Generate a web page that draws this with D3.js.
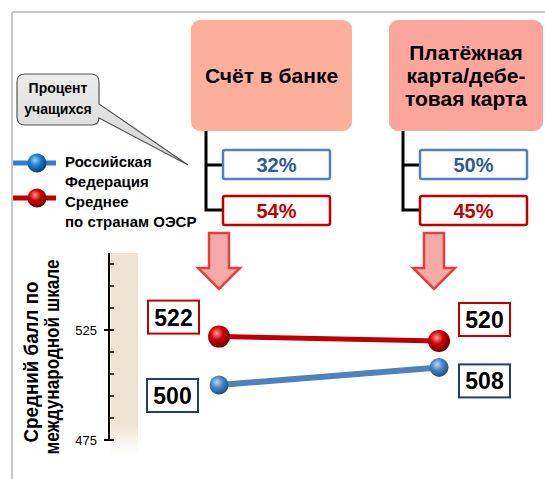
<!DOCTYPE html>
<html>
<head>
<meta charset="utf-8">
<script src="https://cdn.jsdelivr.net/npm/d3@7"></script>
<style>
  body { margin: 0; background: #fff; }
  text { font-family: "Liberation Sans", Arial, sans-serif; font-weight: bold; }
</style>
</head>
<body>
<script>
// categories and values
var categories = ["Счёт в банке", "Платёжная карта/дебетовая карта"];
var categoryLines = [["Счёт в банке"], ["Платёжная", "карта/дебе-", "товая карта"]];
var russiaScores = [500, 508];
var oecdScores = [522, 520];
var russiaPct = [32, 50];
var oecdPct = [54, 45];
var seriesNames = [["Российская", "Федерация"], ["Среднее", "по странам ОЭСР"]];
var axisTitle = ["Средний балл по", "международной шкале"];
var calloutText = ["Процент", "учащихся"];
var tickLabels = [475, 525];

var w = 545, h = 479;

var svg = d3.select("body").append("svg")
    .attr("width", w)
    .attr("height", h);

var defs = svg.append("defs");

// sphere gradients
function sphere(id, light, mid, dark) {
    var g = defs.append("radialGradient").attr("id", id)
        .attr("cx", "40%").attr("cy", "35%").attr("r", "65%");
    g.append("stop").attr("offset", "0%").attr("stop-color", light);
    g.append("stop").attr("offset", "45%").attr("stop-color", mid);
    g.append("stop").attr("offset", "100%").attr("stop-color", dark);
}
sphere("blueBall", "#bcd8f5", "#4f86c6", "#1f4f86");
sphere("blueBall2", "#9fd0ff", "#1f7fd0", "#0a3f78");
sphere("redBall", "#ff9a9a", "#d00000", "#6e0000");

var band = defs.append("linearGradient").attr("id", "band")
    .attr("x1", 0).attr("y1", 0).attr("x2", 0).attr("y2", 1);
band.append("stop").attr("offset", "0%").attr("stop-color", "#eee3d0");
band.append("stop").attr("offset", "85%").attr("stop-color", "#eee3d0");
band.append("stop").attr("offset", "100%").attr("stop-color", "#ffffff");

var callGrad = defs.append("linearGradient").attr("id", "callGrad")
    .attr("x1", 0).attr("y1", 0).attr("x2", 0).attr("y2", 1);
callGrad.append("stop").attr("offset", "0%").attr("stop-color", "#ececec");
callGrad.append("stop").attr("offset", "100%").attr("stop-color", "#d4d4d4");

//frame
svg.append("line").attr("x1", 12).attr("y1", 12).attr("x2", w).attr("y2", 12)
    .style("stroke", "#c8c8c8").style("stroke-width", 2);
svg.append("line").attr("x1", 12).attr("y1", 12).attr("x2", 12).attr("y2", h)
    .style("stroke", "#c8c8c8").style("stroke-width", 2);

//scales
var x = d3.scalePoint()
    .domain(categories)
    .range([219, 439]);

var y = d3.scaleLinear()
    .domain([475, 560])
    .range([440, 253]);

var topBox = d3.scaleOrdinal()
    .domain(categories)
    .range([[191, 161], [389, 154]]);

var branchX = d3.scaleOrdinal()
    .domain(categories)
    .range([206, 403]);

//y axis band and axis
svg.append("rect")
    .attr("x", 111).attr("y", y(560))
    .attr("width", 27).attr("height", y(475) - y(560) + 14)
    .style("fill", "url(#band)");

var axisG = svg.append("g").attr("transform", "translate(109,0)");
axisG.append("line").attr("x1", 0).attr("x2", 0)
    .attr("y1", y(560)).attr("y2", y(475))
    .style("stroke", "#000").style("stroke-width", 2);

var minor = d3.range(475, 561, 10);
axisG.selectAll(".minor")
    .data(minor)
    .enter().append("line")
    .attr("x1", 0).attr("x2", 5)
    .attr("y1", function (d) { return y(d); })
    .attr("y2", function (d) { return y(d); })
    .style("stroke", "#000").style("stroke-width", 1.5);

axisG.selectAll(".major")
    .data(tickLabels)
    .enter().append("line")
    .attr("x1", -5).attr("x2", 5)
    .attr("y1", function (d) { return y(d); })
    .attr("y2", function (d) { return y(d); })
    .style("stroke", "#000").style("stroke-width", 2);

axisG.selectAll(".lbl")
    .data(tickLabels)
    .enter().append("text")
    .attr("x", -12)
    .attr("y", function (d) { return y(d) + 5; })
    .attr("text-anchor", "end")
    .style("font-size", "13px")
    .style("font-weight", "normal")
    .text(function (d) { return d; });

//axis title
var titlePos = [{ x: 38, c: 362, len: 161 }, { x: 59, c: 357, len: 195 }];
axisTitle.forEach(function (t, i) {
    var p = titlePos[i];
    svg.append("text")
        .attr("transform", "translate(" + p.x + "," + p.c + ") rotate(-90)")
        .attr("text-anchor", "middle")
        .attr("textLength", p.len)
        .attr("lengthAdjust", "spacingAndGlyphs")
        .style("font-size", "21px")
        .text(t);
});

//top category boxes
var boxFill = ["#fcb09c", "#fba59d"];
categories.forEach(function (c, i) {
    var b = topBox(c);
    svg.append("rect")
        .attr("x", b[0]).attr("y", 20)
        .attr("width", b[1]).attr("height", 111)
        .attr("rx", 9)
        .style("fill", boxFill[i]);
    var lines = categoryLines[i];
    var cx = b[0] + b[1] / 2;
    var y0 = 75.5 - (lines.length - 1) * 23 / 2 + 7.5;
    svg.append("text")
        .attr("text-anchor", "middle")
        .style("font-size", "21px")
        .selectAll("tspan")
        .data(lines)
        .enter().append("tspan")
        .attr("x", cx)
        .attr("y", function (d, j) { return y0 + j * 23; })
        .text(function (d) { return d; });

    //tree connector
    var bx = branchX(c);
    svg.append("path")
        .attr("d", "M" + bx + ",131V210H" + (bx + 16) + "M" + bx + ",165H" + (bx + 16))
        .style("fill", "none").style("stroke", "#000").style("stroke-width", 3);

    //percent boxes
    var pcts = [
        { v: russiaPct[i], y: 150, stroke: "#4f81bd", color: "#2d5b9a" },
        { v: oecdPct[i], y: 196, stroke: "#c00000", color: "#c00000" }
    ];
    pcts.forEach(function (p) {
        svg.append("rect")
            .attr("x", bx + 17).attr("y", p.y)
            .attr("width", 107).attr("height", 29)
            .attr("rx", 2)
            .style("fill", "#fff").style("stroke", p.stroke).style("stroke-width", 2.5);
        svg.append("text")
            .attr("x", bx + 17 + 53.5).attr("y", p.y + 22)
            .attr("text-anchor", "middle")
            .attr("textLength", 40)
            .attr("lengthAdjust", "spacingAndGlyphs")
            .style("font-size", "21px")
            .style("fill", p.color)
            .text(p.v + "%");
    });

    //down arrow
    var ax = x(c) - (i === 0 ? 0 : 5);
    var arrow = d3.path();
    arrow.moveTo(ax - 10, 233);
    arrow.lineTo(ax + 10, 233);
    arrow.lineTo(ax + 10, 268);
    arrow.lineTo(ax + 21, 268);
    arrow.lineTo(ax, 289);
    arrow.lineTo(ax - 21, 268);
    arrow.lineTo(ax - 10, 268);
    arrow.closePath();
    svg.append("path")
        .attr("d", arrow.toString())
        .style("fill", "#f6a9a9").style("stroke", "#e2403f").style("stroke-width", 2.5)
        .style("stroke-linejoin", "miter");
});

//callout
var call = d3.path();
call.moveTo(25, 74);
call.lineTo(91, 74);
call.quadraticCurveTo(99, 74, 99, 82);
call.lineTo(99, 104);
call.lineTo(188, 165);
call.lineTo(99, 118);
call.quadraticCurveTo(99, 125, 91, 125);
call.lineTo(25, 125);
call.quadraticCurveTo(17, 125, 17, 117);
call.lineTo(17, 82);
call.quadraticCurveTo(17, 74, 25, 74);
call.closePath();
svg.append("path")
    .attr("d", call.toString())
    .style("fill", "url(#callGrad)").style("stroke", "#555").style("stroke-width", 1.2);
svg.append("text")
    .attr("text-anchor", "middle")
    .style("font-size", "14px")
    .selectAll("tspan")
    .data(calloutText)
    .enter().append("tspan")
    .attr("x", 58)
    .attr("y", function (d, i) { return 93 + i * 21; })
    .text(function (d) { return d; });

//legend
var legendSeries = [
    { name: seriesNames[0], color: "#2f7fcf", ball: "url(#blueBall2)", y: 163, ty: 167 },
    { name: seriesNames[1], color: "#c00000", ball: "url(#redBall)", y: 198, ty: 207 }
];
legendSeries.forEach(function (s) {
    svg.append("line").attr("x1", 13).attr("x2", 56)
        .attr("y1", s.y).attr("y2", s.y)
        .style("stroke", s.color).style("stroke-width", 5);
    svg.append("circle").attr("cx", 37).attr("cy", s.y).attr("r", 9.5)
        .style("fill", s.ball);
    svg.append("text")
        .style("font-size", "15px")
        .selectAll("tspan")
        .data(s.name)
        .enter().append("tspan")
        .attr("x", 65)
        .attr("y", function (d, i) { return s.ty + i * 20; })
        .text(function (d) { return d; });
});

//lines and points
var series = [
    { values: russiaScores, color: "#4f81bd", width: 6, r: 9.5, ball: "url(#blueBall)", box: "#1f3f73" },
    { values: oecdScores, color: "#c00000", width: 5, r: 11, ball: "url(#redBall)", box: "#c00000" }
];

var line = d3.line()
    .x(function (d) { return x(d.c); })
    .y(function (d) { return y(d.v); });

series.forEach(function (s) {
    var pts = categories.map(function (c, i) { return { c: c, v: s.values[i] }; });
    svg.append("path")
        .datum(pts)
        .attr("d", line)
        .style("fill", "none").style("stroke", s.color).style("stroke-width", s.width);
    svg.selectAll(null)
        .data(pts)
        .enter().append("circle")
        .attr("cx", function (d) { return x(d.c); })
        .attr("cy", function (d) { return y(d.v); })
        .attr("r", s.r)
        .style("fill", s.ball);
});

//value labels
var labels = [
    { v: oecdScores[0], c: categories[0], dx: -71, dy: -36, stroke: "#c00000" },
    { v: russiaScores[0], c: categories[0], dx: -72, dy: -6, stroke: "#1f3f73" },
    { v: oecdScores[1], c: categories[1], dx: 20, dy: -38, stroke: "#c00000" },
    { v: russiaScores[1], c: categories[1], dx: 20, dy: -3, stroke: "#1f3f73" }
];
labels.forEach(function (l) {
    var lx = x(l.c) + l.dx, ly = y(l.v) + l.dy;
    svg.append("rect")
        .attr("x", lx).attr("y", ly)
        .attr("width", 51).attr("height", 33)
        .style("fill", "#fff").style("stroke", l.stroke).style("stroke-width", 2);
    svg.append("text")
        .attr("x", lx + 25.5).attr("y", ly + 25)
        .attr("text-anchor", "middle")
        .style("font-size", "23px")
        .text(l.v);
});
</script>
</body>
</html>
